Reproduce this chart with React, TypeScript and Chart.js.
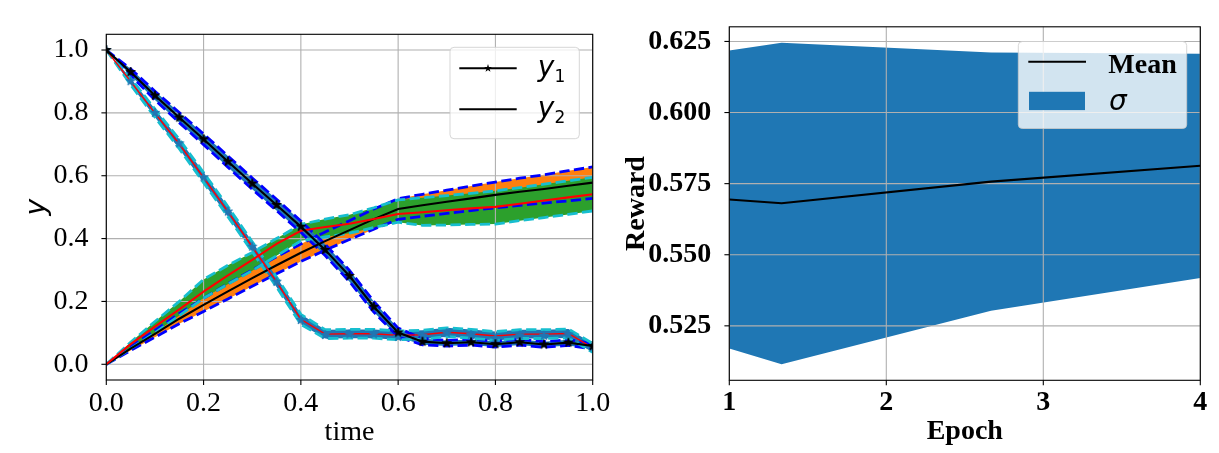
import React, { useEffect, useRef } from "react";
import { Chart, registerables } from "chart.js";

Chart.register(...registerables);

// ---------- left panel: trajectories over time ----------
const timeGrid = [0, 0.05, 0.1, 0.15, 0.2, 0.25, 0.3, 0.35, 0.4, 0.45, 0.5, 0.55, 0.6, 0.65, 0.7, 0.75, 0.8, 0.85, 0.9, 0.95, 1.0];

// reference y1 (black line, black stars) and its spread
const y1Ref = [1.0, 0.93, 0.855, 0.785, 0.716, 0.645, 0.575, 0.507, 0.438, 0.364, 0.281, 0.183, 0.101, 0.072, 0.067, 0.07, 0.064, 0.07, 0.063, 0.069, 0.058];
const y1RefStd = [0, 0.01, 0.014, 0.016, 0.017, 0.018, 0.018, 0.018, 0.018, 0.018, 0.018, 0.017, 0.014, 0.01, 0.009, 0.009, 0.009, 0.009, 0.009, 0.009, 0.009];

// estimated y1 (red mean, blue star samples) and its spread
const y1Est = [1.0, 0.9, 0.799, 0.701, 0.594, 0.486, 0.374, 0.262, 0.143, 0.096, 0.097, 0.097, 0.092, 0.094, 0.102, 0.097, 0.09, 0.096, 0.096, 0.098, 0.052];
const y1Sample = [1.0, 0.901, 0.8, 0.703, 0.595, 0.486, 0.374, 0.263, 0.141, 0.093, 0.095, 0.095, 0.087, 0.09, 0.099, 0.093, 0.083, 0.092, 0.091, 0.095, 0.054];
const y1EstStd = [0, 0.01, 0.013, 0.015, 0.016, 0.016, 0.016, 0.016, 0.016, 0.014, 0.014, 0.014, 0.014, 0.014, 0.014, 0.014, 0.014, 0.014, 0.014, 0.014, 0.014];

// reference y2 (black line, orange band)
const y2Ref = [0, 0.05, 0.097, 0.145, 0.189, 0.232, 0.274, 0.315, 0.355, 0.392, 0.427, 0.462, 0.494, 0.506, 0.517, 0.528, 0.539, 0.549, 0.558, 0.568, 0.578];
const y2RefStd = [0, 0.006, 0.011, 0.016, 0.021, 0.024, 0.026, 0.027, 0.028, 0.029, 0.03, 0.032, 0.033, 0.035, 0.037, 0.039, 0.041, 0.043, 0.045, 0.048, 0.05];

// estimated y2 (red line, green band)
const y2Est = [0, 0.064, 0.12, 0.175, 0.231, 0.283, 0.332, 0.383, 0.425, 0.437, 0.447, 0.462, 0.478, 0.484, 0.49, 0.496, 0.501, 0.511, 0.521, 0.531, 0.541];
const y2EstUpper = [0, 0.07, 0.136, 0.2, 0.27, 0.315, 0.356, 0.4, 0.445, 0.462, 0.476, 0.498, 0.523, 0.53, 0.537, 0.544, 0.552, 0.562, 0.573, 0.584, 0.595];
const y2EstLower = [0, 0.05, 0.1, 0.155, 0.21, 0.255, 0.298, 0.345, 0.393, 0.405, 0.417, 0.435, 0.452, 0.442, 0.443, 0.445, 0.446, 0.457, 0.467, 0.477, 0.488];

const timeTicks = [0, 0.2, 0.4, 0.6, 0.8, 1.0];
const yTicks = [0, 0.2, 0.4, 0.6, 0.8, 1.0];

// ---------- right panel: reward per epoch ----------
const epochs = [1, 1.333, 2.667, 4];
const rewardMean = [0.5694, 0.5681, 0.5757, 0.5813];
const rewardUpper = [0.6218, 0.6245, 0.6211, 0.6207];
const rewardLower = [0.517, 0.5115, 0.5303, 0.5418];
const epochTicks = [1, 2, 3, 4];
const rewardTicks = [0.525, 0.55, 0.575, 0.6, 0.625];

const SERIF = '"Liberation Serif", "Times New Roman", serif';
const SANS = '"DejaVu Sans", sans-serif';
const C0 = "#1f77b4";
const ORANGE = "#ff7f0e";
const GREEN = "#2ca02c";
const BLUE = "#0000ff";
const CYAN = "#17becf";
const RED = "#ff0000";
const GRID = "#b0b0b0";

const pts = (xs: number[], ys: number[]) => xs.map((x, i) => ({ x, y: ys[i] }));
const shift = (ys: number[], d: number[], sign: number) => ys.map((v, i) => v + sign * d[i]);

function starPath(ctx: CanvasRenderingContext2D, cx: number, cy: number, r: number) {
  ctx.beginPath();
  for (let i = 0; i < 10; i++) {
    const rad = i % 2 === 0 ? r : r * 0.382;
    const a = -Math.PI / 2 + (i * Math.PI) / 5;
    const px = cx + rad * Math.cos(a);
    const py = cy + rad * Math.sin(a);
    if (i === 0) ctx.moveTo(px, py);
    else ctx.lineTo(px, py);
  }
  ctx.closePath();
}

function makeStar(color: string, r: number): HTMLCanvasElement {
  const size = Math.ceil(r * 2 + 2);
  const c = document.createElement("canvas");
  c.width = size;
  c.height = size;
  const ctx = c.getContext("2d")!;
  starPath(ctx, size / 2, size / 2, r);
  ctx.fillStyle = color;
  ctx.fill();
  ctx.strokeStyle = color;
  ctx.lineWidth = 1;
  ctx.stroke();
  return c;
}

function roundRect(ctx: CanvasRenderingContext2D, x: number, y: number, w: number, h: number, r: number) {
  ctx.beginPath();
  ctx.moveTo(x + r, y);
  ctx.lineTo(x + w - r, y);
  ctx.arcTo(x + w, y, x + w, y + r, r);
  ctx.lineTo(x + w, y + h - r);
  ctx.arcTo(x + w, y + h, x + w - r, y + h, r);
  ctx.lineTo(x + r, y + h);
  ctx.arcTo(x, y + h, x, y + h - r, r);
  ctx.lineTo(x, y + r);
  ctx.arcTo(x, y, x + r, y, r);
  ctx.closePath();
}

// grid under the lines (but over the shaded bands), frame and tick marks on top
function decorPlugin(xTicks: number[], yTicksArr: number[], legend: (chart: any) => void) {
  return {
    id: "decor",
    beforeDatasetsDraw(chart: any) {
      const { ctx, chartArea: a, scales } = chart;
      ctx.save();
      ctx.strokeStyle = GRID;
      ctx.lineWidth = 1.1;
      xTicks.forEach((v) => {
        const px = scales.x.getPixelForValue(v);
        ctx.beginPath();
        ctx.moveTo(px, a.top);
        ctx.lineTo(px, a.bottom);
        ctx.stroke();
      });
      yTicksArr.forEach((v) => {
        const py = scales.y.getPixelForValue(v);
        ctx.beginPath();
        ctx.moveTo(a.left, py);
        ctx.lineTo(a.right, py);
        ctx.stroke();
      });
      ctx.restore();
    },
    afterDatasetsDraw(chart: any) {
      const { ctx, chartArea: a, scales } = chart;
      ctx.save();
      ctx.strokeStyle = "#000";
      ctx.lineWidth = 1.1;
      ctx.strokeRect(a.left, a.top, a.right - a.left, a.bottom - a.top);
      xTicks.forEach((v) => {
        const px = scales.x.getPixelForValue(v);
        ctx.beginPath();
        ctx.moveTo(px, a.bottom);
        ctx.lineTo(px, a.bottom + 4.9);
        ctx.stroke();
      });
      yTicksArr.forEach((v) => {
        const py = scales.y.getPixelForValue(v);
        ctx.beginPath();
        ctx.moveTo(a.left, py);
        ctx.lineTo(a.left - 4.9, py);
        ctx.stroke();
      });
      ctx.restore();
    },
    afterDraw(chart: any) {
      legend(chart);
    },
  };
}

function bandDatasets(lo: number[], hi: number[], fillColor: string, edgeColor: string, order: number, loIndex: number) {
  const edge = {
    borderColor: edgeColor,
    borderWidth: 2.8,
    borderDash: [10.3, 4.4],
    pointRadius: 0,
    order,
  };
  return [
    { ...edge, data: pts(timeGrid, lo), fill: false },
    { ...edge, data: pts(timeGrid, hi), fill: loIndex, backgroundColor: fillColor },
  ];
}

export default function App() {
  const leftRef = useRef<HTMLCanvasElement>(null);
  const rightRef = useRef<HTMLCanvasElement>(null);

  useEffect(() => {
    document.body.style.margin = "0";
    const blackStar = makeStar("#000", 4.8);
    const blueStar = makeStar(C0, 4.8);

    const datasets: any[] = [
      ...bandDatasets(shift(y2Ref, y2RefStd, -1), shift(y2Ref, y2RefStd, 1), ORANGE, BLUE, 40, 0),
      ...bandDatasets(y2EstLower, y2EstUpper, GREEN, CYAN, 39, 2),
      ...bandDatasets(shift(y1Ref, y1RefStd, -1), shift(y1Ref, y1RefStd, 1), C0, BLUE, 38, 4),
      ...bandDatasets(shift(y1Est, y1EstStd, -1), shift(y1Est, y1EstStd, 1), C0, CYAN, 37, 6),
      { data: pts(timeGrid, y2Ref), borderColor: "#000", borderWidth: 2.1, pointRadius: 0, fill: false, order: 12 },
      { data: pts(timeGrid, y2Est), borderColor: RED, borderWidth: 2.1, pointRadius: 0, fill: false, order: 11 },
      { data: pts(timeGrid, y1Est), borderColor: RED, borderWidth: 1.4, pointRadius: 0, fill: false, order: 10 },
      { data: pts(timeGrid, y1Sample), showLine: false, pointStyle: blueStar, pointRadius: 4.8, fill: false, order: 9 },
      { data: pts(timeGrid, y1Ref), borderColor: "#000", borderWidth: 2.1, pointStyle: blackStar, pointRadius: 4.8, fill: false, order: 8 },
    ];

    const leftLegend = (chart: any) => {
      const { ctx, chartArea: a } = chart;
      const w = 129.3;
      const h = 91.4;
      const x0 = a.right - 13.4 - w;
      const y0 = a.top + 13;
      ctx.save();
      roundRect(ctx, x0, y0, w, h, 4);
      ctx.fillStyle = "rgba(255,255,255,0.8)";
      ctx.fill();
      ctx.strokeStyle = "rgba(204,204,204,0.8)";
      ctx.lineWidth = 1;
      ctx.stroke();
      const rows = [
        { y: y0 + 21, sub: "1", star: true },
        { y: y0 + 62, sub: "2", star: false },
      ];
      rows.forEach((r) => {
        ctx.strokeStyle = "#000";
        ctx.lineWidth = 2.1;
        ctx.beginPath();
        ctx.moveTo(x0 + 9.3, r.y);
        ctx.lineTo(x0 + 66.7, r.y);
        ctx.stroke();
        if (r.star) {
          starPath(ctx, x0 + 38, r.y, 4.2);
          ctx.fillStyle = "#000";
          ctx.fill();
        }
        ctx.fillStyle = "#000";
        ctx.textBaseline = "alphabetic";
        ctx.textAlign = "left";
        ctx.font = `italic 28px ${SANS}`;
        ctx.fillText("y", x0 + 87.7, r.y + 7.7);
        ctx.font = `17px ${SANS}`;
        ctx.fillText(r.sub, x0 + 104.5, r.y + 13.4);
      });
      ctx.restore();
    };

    const left = new Chart(leftRef.current!, {
      type: "line",
      data: { datasets },
      options: {
        animation: false,
        responsive: false,
        devicePixelRatio: 1,
        layout: { padding: { left: 0, right: 22.3, top: 34.3, bottom: 0 } },
        plugins: {
          legend: { display: false },
          tooltip: { enabled: false },
          filler: { drawTime: "beforeDatasetsDraw" },
        } as any,
        scales: {
          x: {
            type: "linear",
            min: 0,
            max: 1,
            afterBuildTicks: (s: any) => {
              s.ticks = timeTicks.map((v) => ({ value: v }));
            },
            afterFit: (s: any) => {
              s.height = 73;
            },
            grid: { display: false },
            border: { display: false },
            ticks: {
              font: { family: SERIF, size: 28 },
              color: "#000",
              padding: -1,
              maxRotation: 0,
              autoSkip: false,
              callback: (v: any) => Number(v).toFixed(1),
            },
            title: {
              display: true,
              text: "time",
              color: "#000",
              font: { family: SERIF, size: 28 },
              padding: { top: 0, bottom: 3.5 },
            },
          },
          y: {
            type: "linear",
            min: -0.05,
            max: 1.05,
            afterBuildTicks: (s: any) => {
              s.ticks = yTicks.map((v) => ({ value: v }));
            },
            afterFit: (s: any) => {
              s.width = 106.3;
            },
            grid: { display: false },
            border: { display: false },
            ticks: {
              font: { family: SERIF, size: 28 },
              color: "#000",
              padding: 9.7,
              autoSkip: false,
              callback: (v: any) => Number(v).toFixed(1),
            },
            title: {
              display: true,
              text: "y",
              color: "#000",
              font: { family: SANS, size: 28, style: "italic" },
              padding: { top: 20.5, bottom: 0 },
            },
          },
        },
      } as any,
      plugins: [decorPlugin(timeTicks, yTicks, leftLegend)],
    });

    const rightLegend = (chart: any) => {
      const { ctx, chartArea: a } = chart;
      const w = 168.4;
      const h = 87;
      const x0 = a.right - 13.6 - w;
      const y0 = a.top + 14.7;
      ctx.save();
      roundRect(ctx, x0, y0, w, h, 4);
      ctx.fillStyle = "rgba(255,255,255,0.8)";
      ctx.fill();
      ctx.strokeStyle = "rgba(204,204,204,0.8)";
      ctx.lineWidth = 1;
      ctx.stroke();
      ctx.strokeStyle = "#000";
      ctx.lineWidth = 2.1;
      ctx.beginPath();
      ctx.moveTo(x0 + 10, y0 + 20.3);
      ctx.lineTo(x0 + 67.7, y0 + 20.3);
      ctx.stroke();
      ctx.fillStyle = C0;
      ctx.fillRect(x0 + 10.7, y0 + 50.3, 56, 18.3);
      ctx.fillStyle = "#000";
      ctx.textAlign = "left";
      ctx.textBaseline = "alphabetic";
      ctx.font = `bold 28px ${SERIF}`;
      ctx.fillText("Mean", x0 + 90, y0 + 31);
      ctx.font = `italic 28px ${SANS}`;
      ctx.fillText("σ", x0 + 90.7, y0 + 68.6);
      ctx.restore();
    };

    const right = new Chart(rightRef.current!, {
      type: "line",
      data: {
        datasets: [
          { data: pts(epochs, rewardLower), borderWidth: 0, borderColor: "rgba(0,0,0,0)", pointRadius: 0, fill: false, order: 5 },
          { data: pts(epochs, rewardUpper), borderWidth: 0, borderColor: "rgba(0,0,0,0)", pointRadius: 0, fill: 0, backgroundColor: C0, order: 4 },
          { data: pts(epochs, rewardMean), borderColor: "#000", borderWidth: 2.1, pointRadius: 0, fill: false, order: 1 },
        ],
      },
      options: {
        animation: false,
        responsive: false,
        devicePixelRatio: 1,
        layout: { padding: { left: 0, right: 18.7, top: 26, bottom: 0 } },
        plugins: {
          legend: { display: false },
          tooltip: { enabled: false },
          filler: { drawTime: "beforeDatasetsDraw" },
        } as any,
        scales: {
          x: {
            type: "linear",
            min: 1,
            max: 4,
            afterBuildTicks: (s: any) => {
              s.ticks = epochTicks.map((v) => ({ value: v }));
            },
            afterFit: (s: any) => {
              s.height = 72.7;
            },
            grid: { display: false },
            border: { display: false },
            ticks: {
              font: { family: SERIF, size: 28, weight: "bold" },
              color: "#000",
              padding: -2,
              maxRotation: 0,
              autoSkip: false,
              callback: (v: any) => String(v),
            },
            title: {
              display: true,
              text: "Epoch",
              color: "#000",
              font: { family: SERIF, size: 28, weight: "bold" },
              padding: { top: 0, bottom: 4 },
            },
          },
          y: {
            type: "linear",
            min: 0.50585,
            max: 0.63015,
            afterBuildTicks: (s: any) => {
              s.ticks = rewardTicks.map((v) => ({ value: v }));
            },
            afterFit: (s: any) => {
              s.width = 114.3;
            },
            grid: { display: false },
            border: { display: false },
            ticks: {
              font: { family: SERIF, size: 28, weight: "bold" },
              color: "#000",
              padding: 10,
              autoSkip: false,
              callback: (v: any) => Number(v).toFixed(3),
            },
            title: {
              display: true,
              text: "Reward",
              color: "#000",
              font: { family: SERIF, size: 28, weight: "bold" },
              padding: { top: 5.2, bottom: 0 },
            },
          },
        },
      } as any,
      plugins: [decorPlugin(epochTicks, rewardTicks, rightLegend)],
    });

    return () => {
      left.destroy();
      right.destroy();
    };
  }, []);

  return (
    <div style={{ position: "fixed", left: 0, top: 0, width: 1219, height: 453, background: "#fff" }}>
      <canvas ref={leftRef} width={615} height={453} style={{ position: "absolute", left: 0, top: 0, width: 615, height: 453 }} />
      <canvas ref={rightRef} width={604} height={453} style={{ position: "absolute", left: 615, top: 0, width: 604, height: 453 }} />
    </div>
  );
}
